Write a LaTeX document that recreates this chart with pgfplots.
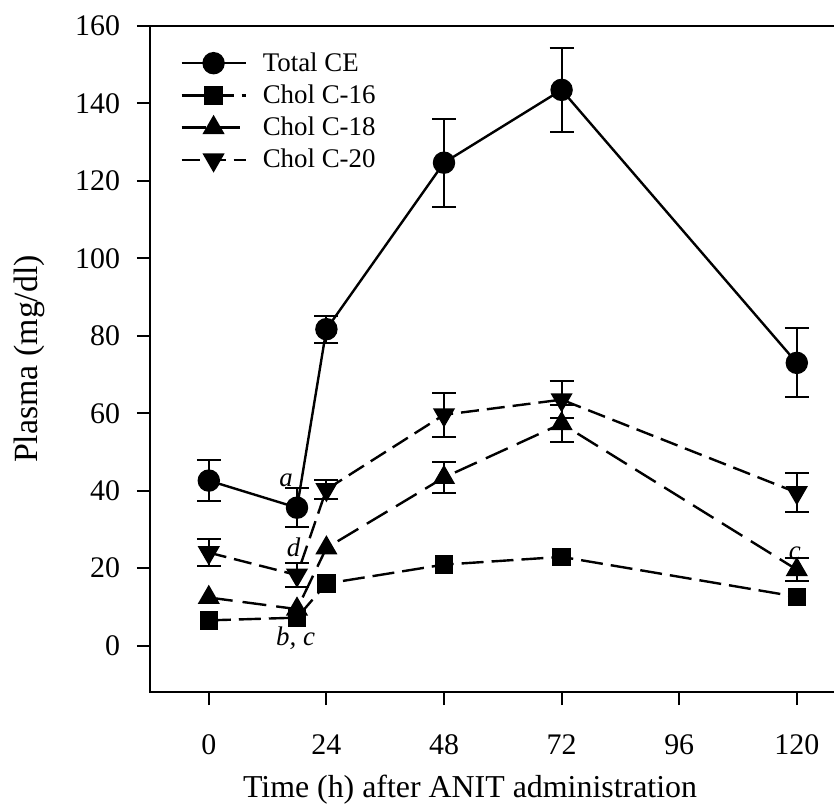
\documentclass[border=0pt]{standalone}
\usepackage{pgfplots}
\pgfplotsset{compat=1.18}
\usepackage{fontspec}
\setmainfont{Liberation Serif}
\begin{document}
\begin{tikzpicture}
\begin{axis}[
  scale only axis, width=343bp, height=333bp,
  xmin=-12, xmax=128, ymin=-12, ymax=160,
  xtick={0,24,48,72,96,120}, ytick={0,20,...,160},
  tick align=outside, xtick pos=bottom, ytick pos=left,
  major tick length=6.5bp,
  every tick/.style={line width=1bp, black},
  axis line style={line width=1.2bp},
  /pgf/number format/assume math mode=true,
  ticklabel style={font=\fontsize{15}{18}\selectfont},
  xticklabel style={yshift=-11.5bp},
  yticklabel style={xshift=-5bp},
  xlabel={Time (h) after ANIT administration},
  ylabel={Plasma (mg/dl)},
  every axis x label/.style={at={(axis description cs:0.4665,-0.1471)}, anchor=center, font=\fontsize{16}{19}\selectfont},
  every axis y label/.style={at={(axis description cs:-0.1764,0.5)}, anchor=center, rotate=90, font=\fontsize{17}{20}\selectfont},
  legend style={at={(axis description cs:0.0437,0.967)}, anchor=north west, draw=none, fill=none, inner sep=0pt, font=\fontsize{13.5}{16}\selectfont, cells={anchor=west}, row sep=1.3bp, /tikz/every odd column/.append style={column sep=6bp}},
  legend image code/.code={\draw[mark repeat=2,mark phase=2] plot coordinates {(0bp,0bp)(16bp,0bp)(32bp,0bp)};},
  error bars/y dir=both, error bars/y explicit,
  error bars/error bar style={solid, line width=1bp},
  error bars/error mark options={rotate=90, mark size=6bp, line width=1bp, solid},
]
\addplot[black, line width=1.2bp, mark=*, mark size=5bp, mark options={solid}]
  table[x=t, y=v, y error=e] {
t v e
0 42.6 5.2
18 35.6 5.0
24 81.7 3.5
48 124.7 11.4
72 143.5 10.8
120 73.0 8.9
};
\addlegendentry{Total CE}
\addplot[black, line width=1.2bp, dash pattern=on 11bp off 4bp, mark=square*, mark size=4bp, mark options={solid}, error bars/y dir=none]
  table[x=t, y=v] {
t v
0 6.5
18 7.2
24 16.0
48 20.9
72 22.9
120 12.6
};
\addlegendentry{Chol C-16}
\addplot[black, line width=1.2bp, dash pattern=on 12bp off 5bp, mark=triangle*, mark size=5.2bp, mark options={solid}, error bars/y dir=none]
  table[x=t, y=v] {
t v
0 12.4
18 9.4
24 25.2
48 43.4
72 57.3
120 19.6
};
\addlegendentry{Chol C-18}
\addplot[black, line width=1.2bp, dash pattern=on 9bp off 4bp, mark=triangle*, mark size=5.2bp, mark options={solid, rotate=180}]
  table[x=t, y=v, y error=e] {
t v e
0 24.0 3.4
18 18.2 3
24 40.3 2.5
48 59.6 5.7
72 63.5 4.7
120 39.5 5
};
\addlegendentry{Chol C-20}
\addplot[draw=none, mark=none, forget plot]
  table[x=t, y=v, y error=e] {
t v e
48 43.4 3.9
72 57.3 4.8
120 19.6 3
};
\node[font=\itshape\fontsize{13.5}{16}\selectfont] at (axis cs:15.8,42.8) {a};
\node[font=\itshape\fontsize{13.5}{16}\selectfont] at (axis cs:17.3,25.3) {d};
\node[font=\itshape\fontsize{13.5}{16}\selectfont] at (axis cs:17.7,2.0) {b, c};
\node[font=\itshape\fontsize{13.5}{16}\selectfont] at (axis cs:119.6,23.9) {c};
\end{axis}
\pgfresetboundingbox
\path[use as bounding box] (current axis.south west) ++(-75bp,-59bp) rectangle ++(417bp,405bp);
\end{tikzpicture}
\end{document}
